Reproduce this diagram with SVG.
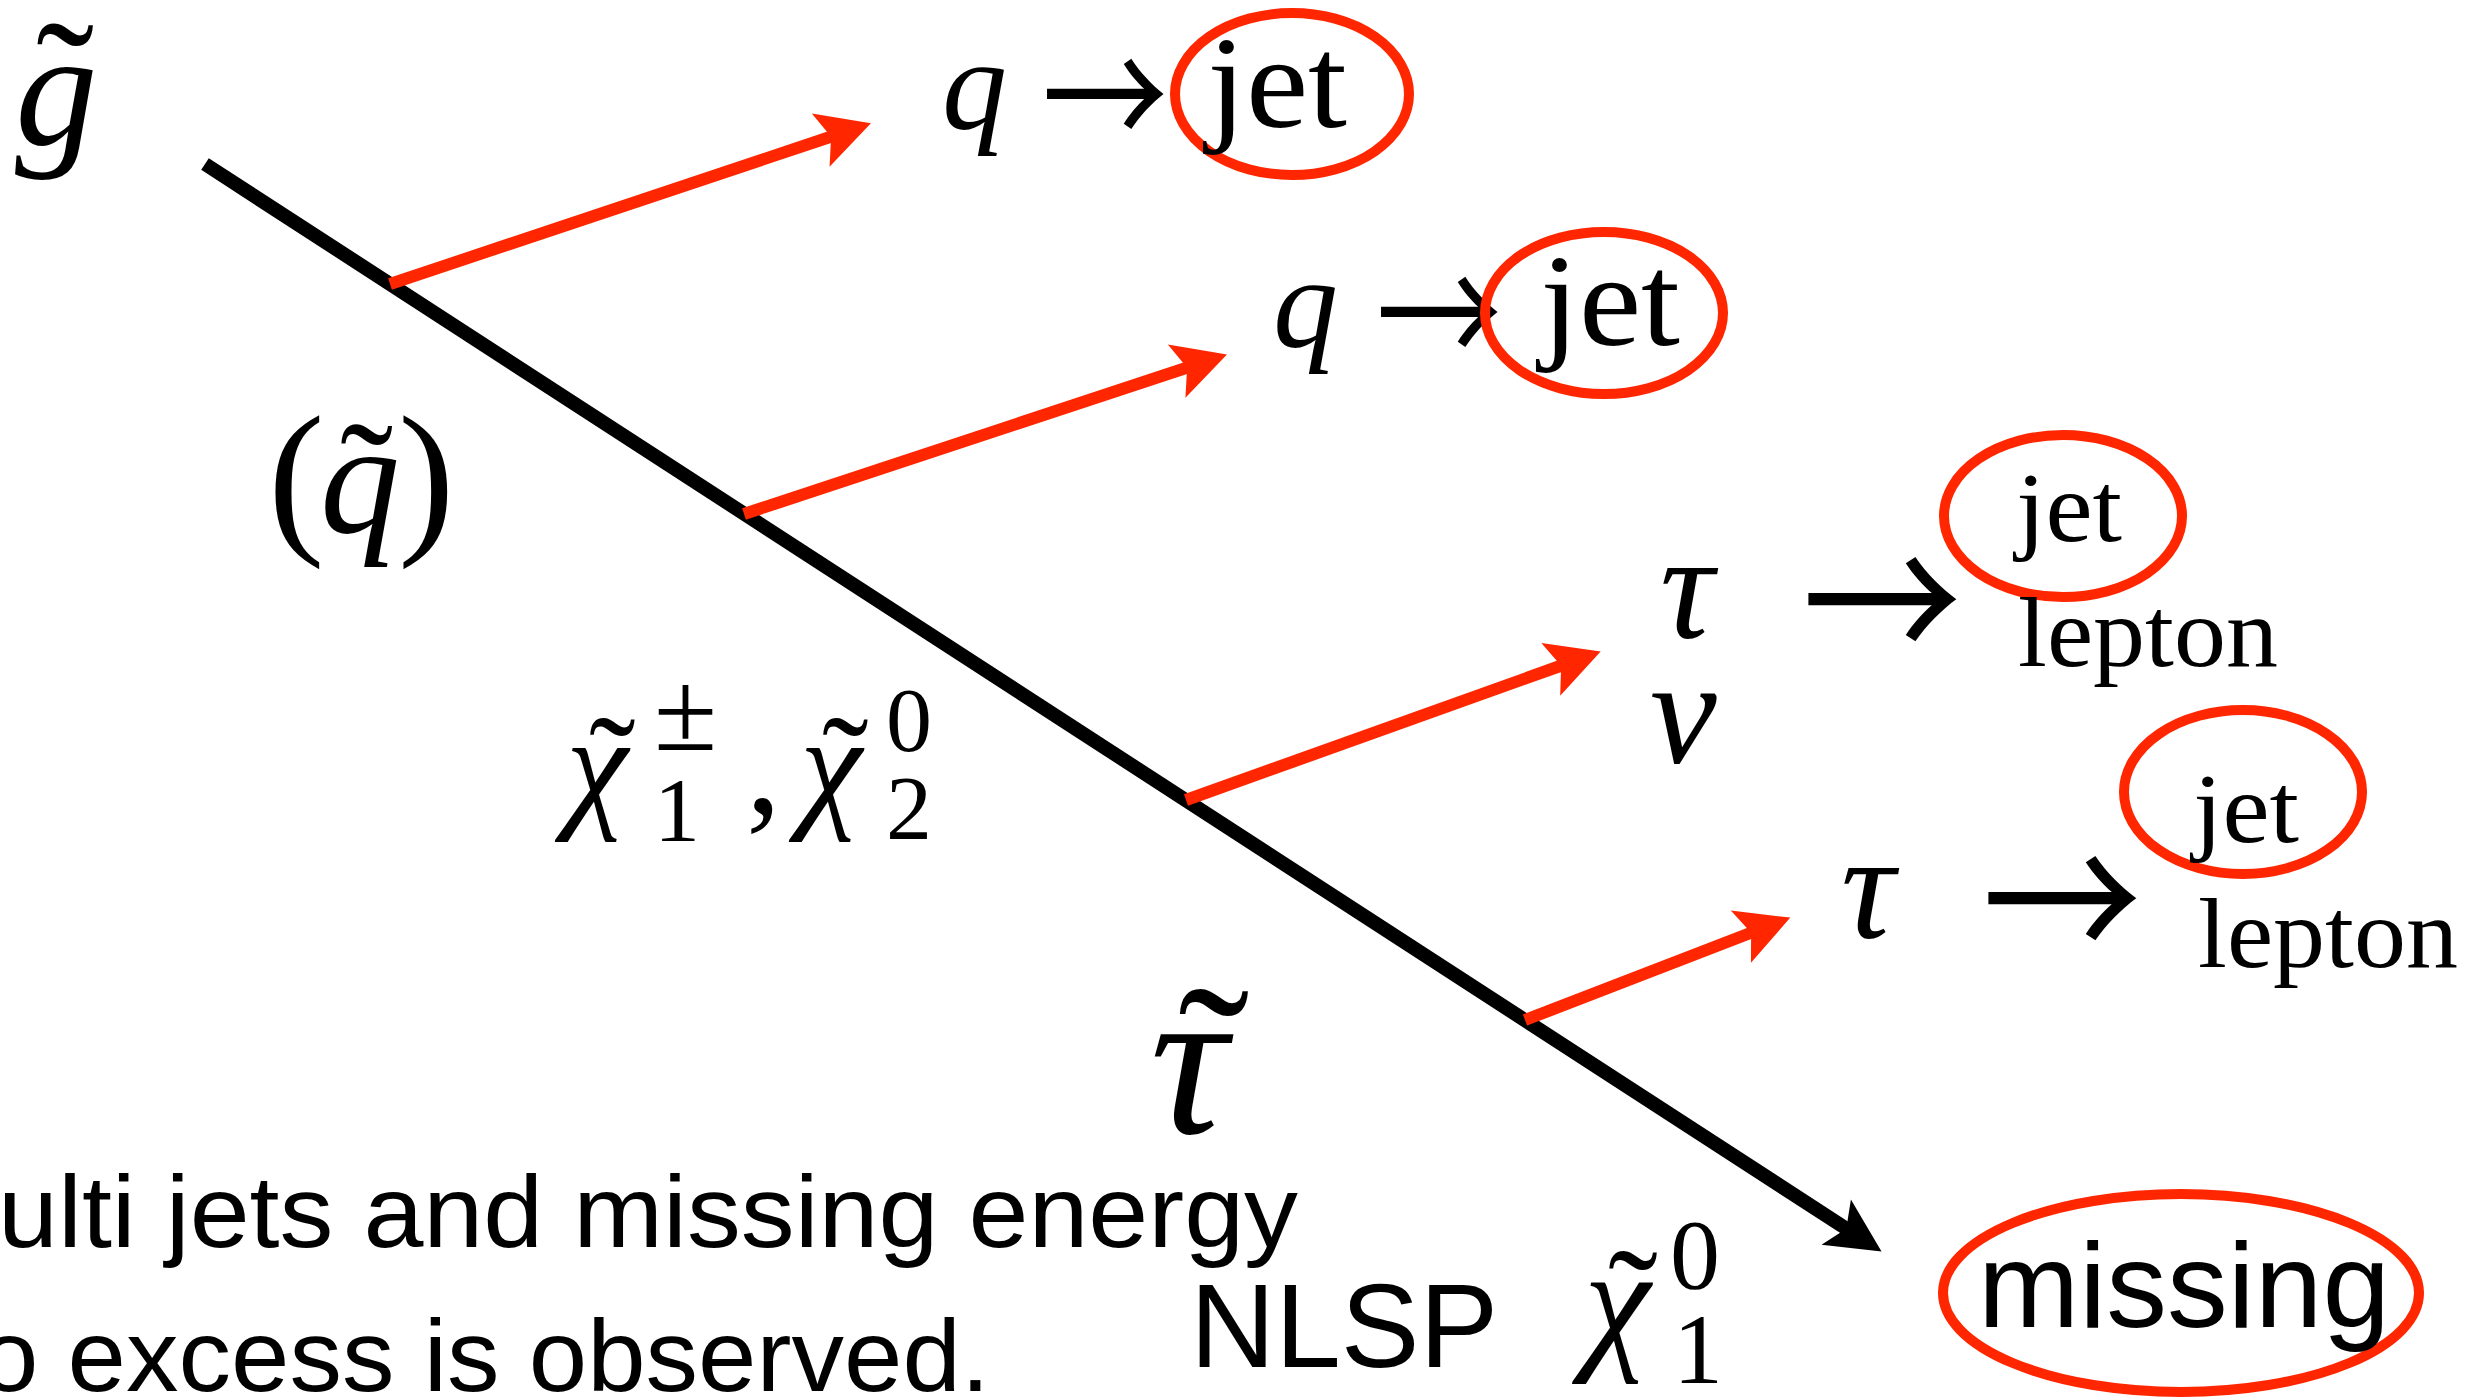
<svg xmlns="http://www.w3.org/2000/svg" width="2476" height="1398" viewBox="0 0 2476 1398">
<style>
.m { font-family: "Liberation Serif", "DejaVu Serif", serif; font-style: italic; fill: #000; }
.r { font-family: "Liberation Serif", "DejaVu Serif", serif; fill: #000; }
.s { font-family: "Liberation Sans", Arial, sans-serif; fill: #000; }
.ar { font-family: "Noto Sans CJK JP", "DejaVu Sans", sans-serif; fill: #000; }
.ring { fill: none; stroke: #ff2600; stroke-width: 10; }
.red { fill: none; stroke: #ff2600; stroke-width: 12; }
.blk { fill: none; stroke: #000; stroke-width: 14; }
</style>
<defs>
<marker id="ahR" markerUnits="userSpaceOnUse" viewBox="-20 -35 70 70" refX="0" refY="0" markerWidth="70" markerHeight="70" orient="auto" overflow="visible">
<path d="M40,0 L-13,-28 L-2,0 L-13,28 Z" fill="#ff2600"/>
</marker>
<marker id="ahK" markerUnits="userSpaceOnUse" viewBox="-20 -35 70 70" refX="0" refY="0" markerWidth="70" markerHeight="70" orient="auto" overflow="visible">
<path d="M34,0 L-20,-27 L-8,0 L-20,27 Z" fill="#000"/>
</marker>
</defs>
<rect width="2476" height="1398" fill="#fff"/>

<g id="connectors">
<line class="blk" x1="205" y1="164" x2="1853" y2="1233" marker-end="url(#ahK)"/>
<line class="red" x1="390" y1="284" x2="833" y2="136" marker-end="url(#ahR)"/>
<line class="red" x1="744" y1="514" x2="1189" y2="367" marker-end="url(#ahR)"/>
<line class="red" x1="1186" y1="800" x2="1563" y2="665" marker-end="url(#ahR)"/>
<line class="red" x1="1525" y1="1020" x2="1753" y2="932" marker-end="url(#ahR)"/>
</g>

<g id="gluino">
<text class="m" x="15" y="145" font-size="165">g</text>
<text class="r" x="36" y="142" font-size="175">˜</text>
</g>

<g id="squark">
<text class="r" x="268" y="533" font-size="170">(</text>
<text class="m" x="320" y="533" font-size="160">q</text>
<text class="r" x="340" y="533" font-size="160">˜</text>
<text class="r" x="398" y="533" font-size="170">)</text>
</g>

<g id="row1">
<text class="m" x="942" y="128" font-size="130">q</text>
<text class="ar" x="1042" y="151" font-size="150" textLength="126" lengthAdjust="spacingAndGlyphs">→</text>
<ellipse class="ring" cx="1292" cy="94" rx="117" ry="81"/>
<text class="r" x="1207" y="127" font-size="132" textLength="140" lengthAdjust="spacingAndGlyphs">jet</text>
</g>

<g id="row2">
<text class="m" x="1273" y="346" font-size="130">q</text>
<text class="ar" x="1376" y="369" font-size="150" textLength="126" lengthAdjust="spacingAndGlyphs">→</text>
<ellipse class="ring" cx="1604" cy="313" rx="119" ry="81"/>
<text class="r" x="1540" y="345" font-size="132" textLength="140" lengthAdjust="spacingAndGlyphs">jet</text>
</g>

<g id="chargino">
<text class="m" x="566" y="812" font-size="140">χ</text>
<text class="r" x="589" y="812" font-size="140">˜</text>
<text class="r" x="654" y="841" font-size="92">1</text>
<text class="r" x="654" y="750" font-size="115">±</text>
<text class="r" x="746" y="812" font-size="140">,</text>
<text class="m" x="800" y="812" font-size="140">χ</text>
<text class="r" x="822" y="812" font-size="140">˜</text>
<text class="r" x="886" y="839" font-size="92">2</text>
<text class="r" x="886" y="751" font-size="92">0</text>
</g>

<g id="tau1">
<text class="m" x="1660" y="638" font-size="150">τ</text>
<text class="ar" x="1802" y="667" font-size="180" textLength="160" lengthAdjust="spacingAndGlyphs">→</text>
<ellipse class="ring" cx="2063" cy="516" rx="119" ry="81"/>
<text class="r" x="2016" y="541" font-size="100" textLength="106" lengthAdjust="spacingAndGlyphs">jet</text>
<text class="r" x="2018" y="666" font-size="100" textLength="260" lengthAdjust="spacingAndGlyphs">lepton</text>
</g>

<g id="nu">
<text class="m" x="1650" y="763" font-size="150">ν</text>
</g>

<g id="tau2">
<text class="m" x="1841" y="938" font-size="150">τ</text>
<text class="ar" x="1982" y="966" font-size="180" textLength="160" lengthAdjust="spacingAndGlyphs">→</text>
<ellipse class="ring" cx="2243" cy="792" rx="119" ry="82"/>
<text class="r" x="2193" y="842" font-size="100" textLength="106" lengthAdjust="spacingAndGlyphs">jet</text>
<text class="r" x="2198" y="967" font-size="100" textLength="260" lengthAdjust="spacingAndGlyphs">lepton</text>
</g>

<g id="stau">
<text class="m" x="1150" y="1133" font-size="215">τ</text>
<text class="r" x="1178" y="1133" font-size="215">˜</text>
</g>

<g id="nlsp">
<text class="s" x="1190" y="1367" font-size="118">NLSP</text>
<text class="m" x="1584" y="1352" font-size="150">χ</text>
<text class="r" x="1608" y="1352" font-size="150">˜</text>
<text class="r" x="1673" y="1383" font-size="100">1</text>
<text class="r" x="1670" y="1288" font-size="100">0</text>
</g>

<g id="missing">
<ellipse class="ring" cx="2181" cy="1293" rx="238" ry="99"/>
<text class="s" x="1978" y="1327" font-size="120" textLength="412" lengthAdjust="spacingAndGlyphs">missing</text>
</g>

<g id="caption">
<text class="s" x="-2" y="1247" font-size="102" textLength="1300" lengthAdjust="spacingAndGlyphs">ulti jets and missing energy</text>
<text class="s" x="-20" y="1391" font-size="102" textLength="1010" lengthAdjust="spacingAndGlyphs">o excess is observed.</text>
</g>
</svg>
